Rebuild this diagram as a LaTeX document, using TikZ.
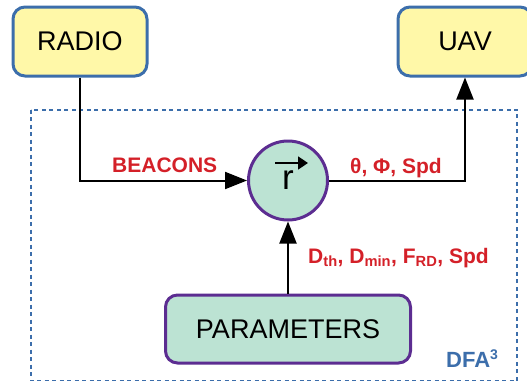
\documentclass[tikz,border=0pt]{standalone}
\usepackage{fontspec}
\setmainfont{Liberation Sans}
\usetikzlibrary{arrows.meta}

\definecolor{boxyellow}{HTML}{FFF8A8}
\definecolor{boxblue}{HTML}{3C6EAB}
\definecolor{nodegreen}{HTML}{BCE3D3}
\definecolor{nodepurple}{HTML}{5C2D91}
\definecolor{labelred}{HTML}{D42028}

\begin{document}
\begin{tikzpicture}[x=1pt, y=-1pt,
    every node/.style={inner sep=0pt},
    extbox/.style={draw=boxblue, fill=boxyellow, line width=3pt, rounded corners=12pt,
        minimum width=134pt, minimum height=69pt, font=\fontsize{27}{32}\selectfont},
    parambox/.style={draw=nodepurple, fill=nodegreen, line width=3pt, rounded corners=12pt,
        minimum width=245pt, minimum height=68pt, font=\fontsize{27}{32}\selectfont},
    core/.style={circle, draw=nodepurple, fill=nodegreen, line width=3pt, minimum size=79pt,
        font=\fontsize{35}{40}\selectfont,
        path picture={\draw[black, line width=1.8pt, -{Triangle[length=10pt, width=13pt]}]
            ([shift={(-13,-17.5)}]path picture bounding box.center) -- ++(33,0);}},
    sig/.style={text=labelred, font=\fontsize{21}{24}\selectfont\bfseries, anchor=base west},
    flow/.style={draw=black, line width=2pt, -{Triangle[length=22pt, width=17pt]}}]

    % fixed frame
    \useasboundingbox (0,0) rectangle (527,380);

    % =====================================================
    % DFA frame
    % =====================================================
    \draw[boxblue, line width=2pt, dash pattern=on 4pt off 3.5pt] (30.5,109.5) rectangle (517,380.5);
    \node[anchor=base west, text=boxblue, font=\fontsize{22}{26}\selectfont\bfseries] (dfa) at (446,367)
        {DFA\raisebox{8pt}{\fontsize{14}{16}\selectfont 3}};

    % =====================================================
    % Blocks
    % =====================================================
    \node[extbox] (radio) at (80,41.5) {RADIO};
    \node[extbox] (uav) at (465,41.5) {UAV};
    \node[core] (r) at (288,180.5) {r};
    \node[parambox] (params) at (288,329) {PARAMETERS};

    % =====================================================
    % Signals
    % =====================================================
    \draw[flow] (radio) |- (r);
    \draw[flow] (r) -| (uav);
    \draw[flow] (params) -- (r);

    \node[sig] (beacons) at (112,172.5) {BEACONS};
    \node[sig] (angles) at (350,173.3) {θ, Φ, Spd};
    \node[sig] (limits) at (308,263) {D\textsubscript{th}, D\textsubscript{min}, F\textsubscript{RD}, Spd};

\end{tikzpicture}
\end{document}
